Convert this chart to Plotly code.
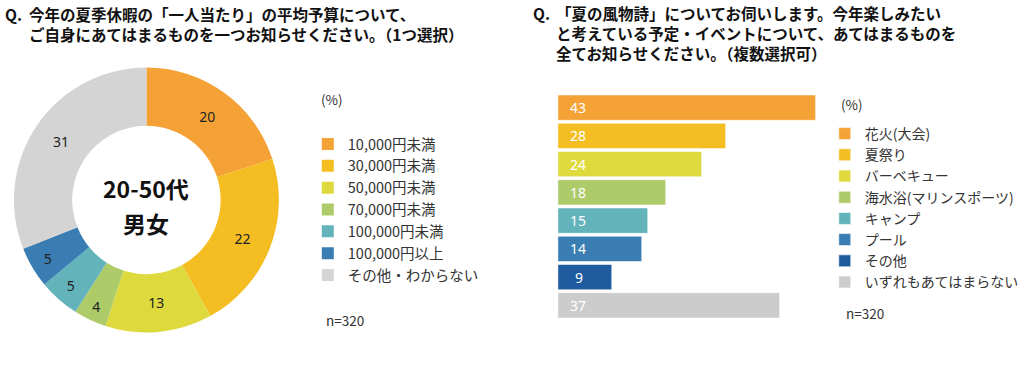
import plotly.graph_objects as go

W, H = 1024, 368

# ---- Data ----
budget_labels = ["10,000円未満", "30,000円未満", "50,000円未満", "70,000円未満",
                 "100,000円未満", "100,000円以上", "その他・わからない"]
budget_values = [20, 22, 13, 4, 5, 5, 31]
budget_colors = ["#F4A235", "#F4BE22", "#DEDA3E", "#ADCB69", "#63B3BA", "#3A7DB2", "#D4D4D4"]

event_labels = ["花火(大会)", "夏祭り", "バーベキュー", "海水浴(マリンスポーツ)",
                "キャンプ", "プール", "その他", "いずれもあてはまらない"]
event_values = [43, 28, 24, 18, 15, 14, 9, 37]
event_colors = ["#F4A235", "#F4BE22", "#DEDA3E", "#ADCB69", "#63B3BA", "#3A7DB2", "#1F5B9F", "#CCCCCC"]

title1_lines = ["今年の夏季休暇の「一人当たり」の平均予算について、",
                "ご自身にあてはまるものを一つお知らせください。（1つ選択）"]
title2_lines = ["「夏の風物詩」についてお伺いします。今年楽しみたい",
                "と考えている予定・イベントについて、あてはまるものを",
                "全てお知らせください。（複数選択可）"]
center_lines = ["20-50代", "男女"]
n_text = "n=320"

JP = "Noto Sans CJK JP"

def px(x):
    return x / W

def py(y):
    return 1 - y / H

fig = go.Figure()

# ---- Donut ----
fig.add_trace(go.Pie(
    labels=budget_labels, values=budget_values,
    marker=dict(colors=budget_colors, line=dict(width=0)),
    hole=0.56, sort=False, direction="clockwise", rotation=0,
    textinfo="value", textposition="inside", insidetextorientation="horizontal",
    textfont=dict(family="Noto Sans", size=14, color="#222222"),
    domain=dict(x=[px(14), px(280)], y=[py(333), py(67)]),
    legend="legend", showlegend=True,
))

# ---- Bars ----
for lab, val, col in zip(event_labels, event_values, event_colors):
    fig.add_trace(go.Bar(
        y=[lab], x=[val], orientation="h", name=lab,
        marker=dict(color=col, line=dict(color="rgba(255,255,255,0.6)", width=1)),
        legend="legend2", showlegend=True, hoverinfo="x+y",
    ))

for lab, val in zip(event_labels, event_values):
    fig.add_annotation(x=0, y=lab, xref="x", yref="y", text=str(val),
                       xanchor="left", xshift=10 if val >= 10 else 15, showarrow=False,
                       font=dict(family="Noto Sans", size=14, color="white"))

fig.update_layout(
    width=W, height=H,
    margin=dict(l=0, r=0, t=0, b=0),
    paper_bgcolor="white", plot_bgcolor="white",
    barmode="overlay", bargap=0.1,
    xaxis=dict(domain=[px(560), px(861)], range=[0, 50], visible=False, fixedrange=True),
    yaxis=dict(domain=[py(319.5), py(93.5)], categoryorder="array", categoryarray=event_labels,
               autorange="reversed", visible=False, fixedrange=True),
    legend=dict(x=px(309), y=py(128), xanchor="left", yanchor="top",
                font=dict(family=JP, size=14.5, color="#333333"),
                traceorder="normal", tracegroupgap=0, bgcolor="rgba(0,0,0,0)"),
    legend2=dict(x=px(828), y=py(118), xanchor="left", yanchor="top",
                 font=dict(family=JP, size=14, color="#333333"),
                 traceorder="normal", tracegroupgap=0, bgcolor="rgba(0,0,0,0)"),
    showlegend=True,
)

TF = dict(family=JP, size=15.5, color="#111111")
annos = []
# Titles
annos.append(dict(x=px(3), y=py(13.5), text="<b>Q.</b>", xanchor="left", yanchor="middle", font=TF))
annos.append(dict(x=px(27), y=py(23.5), text="<br>".join("<b>%s</b>" % l for l in title1_lines),
                  xanchor="left", yanchor="middle", align="left", font=TF))
annos.append(dict(x=px(533), y=py(13), text="<b>Q.</b>", xanchor="left", yanchor="middle", font=TF))
annos.append(dict(x=px(556), y=py(33), text="<br>".join("<b>%s</b>" % l for l in title2_lines),
                  xanchor="left", yanchor="middle", align="left", font=TF))
# Donut center
annos.append(dict(x=px(147), y=py(188), text="<b>%s</b>" % center_lines[0], xanchor="center", yanchor="middle",
                  font=dict(family=JP, size=23, color="#111111")))
annos.append(dict(x=px(147), y=py(223), text="<b>%s</b>" % center_lines[1], xanchor="center", yanchor="middle",
                  font=dict(family=JP, size=23, color="#111111")))
# (%) and n
SF = dict(family=JP, size=13.5, color="#333333")
annos.append(dict(x=px(320), y=py(99), text="(%)", xanchor="left", yanchor="middle", font=SF))
annos.append(dict(x=px(325), y=py(320), text=n_text, xanchor="left", yanchor="middle", font=SF))
annos.append(dict(x=px(842), y=py(104), text="(%)", xanchor="left", yanchor="middle", font=SF))
annos.append(dict(x=px(847), y=py(313), text=n_text, xanchor="left", yanchor="middle", font=SF))
for a in annos:
    a.update(xref="paper", yref="paper", showarrow=False)
    fig.add_annotation(**a)

fig.write_html("out.html", config={"displayModeBar": False},
               post_script="document.body.style.margin='0';document.body.style.overflow='hidden';")
